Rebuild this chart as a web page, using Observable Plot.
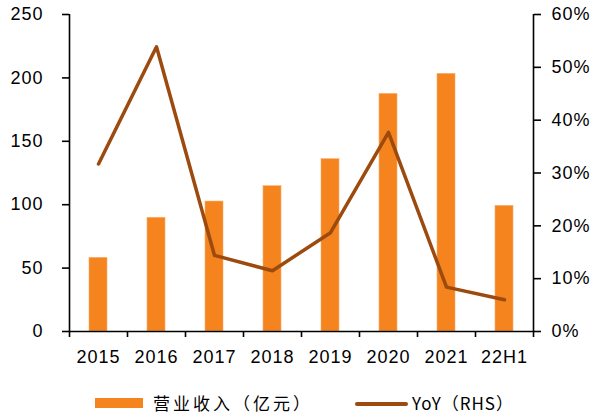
<!DOCTYPE html>
<html>
<head>
<meta charset="utf-8">
<script src="https://cdn.jsdelivr.net/npm/d3@7"></script>
<script src="https://cdn.jsdelivr.net/npm/@observablehq/plot@0.6"></script>
<style>
  html, body { margin: 0; padding: 0; background: #fff; }
  #wrap { position: relative; width: 598px; height: 418px; overflow: hidden; }
  .lg { position: absolute; font-family: "Noto Sans CJK SC", sans-serif; font-size: 17px; color: #000; line-height: 20px; white-space: nowrap; }
  .sw { position: absolute; }
</style>
</head>
<body>
<div id="wrap">
  <div id="chart"></div>
  <div class="sw" style="left:95px;top:398px;width:48px;height:10px;background:#F5841F;"></div>
  <div class="lg" style="left:153px;top:393px;letter-spacing:3px;">营业收入（亿元）</div>
  <div class="sw" style="left:355px;top:402px;width:53px;height:4px;background:#9C4A0E;border-radius:2px;"></div>
  <div class="lg" style="left:412px;top:393px;letter-spacing:1px;">YoY（RHS）</div>
</div>
<script>
const categories = ["2015", "2016", "2017", "2018", "2019", "2020", "2021", "22H1"];
const revenue = [58.1, 89.7, 102.5, 114.6, 135.9, 187.4, 203.2, 99.1];
const yoy = [31.7, 53.9, 14.4, 11.5, 18.7, 37.7, 8.4, 6.0];
const leftTicks = [0, 50, 100, 150, 200, 250];
const rightTicks = [0, 10, 20, 30, 40, 50, 60];

const yMax = 250, rMax = 60;
const toLeft = p => p * yMax / rMax;

const rows = categories.map((c, i) => ({cat: c, rev: revenue[i], yoy: yoy[i]}));

const W = 598, H = 375, mL = 69, mR = 65, mT = 14, mB = 44;
const step = (W - mL - mR) / categories.length;

const chart = Plot.plot({
  width: W,
  height: H,
  marginLeft: mL,
  marginRight: mR,
  marginTop: mT,
  marginBottom: mB,
  style: {fontFamily: "Liberation Sans, Arial, sans-serif", fontSize: "18px", color: "#000", letterSpacing: "1px", background: "#fff"},
  x: {type: "band", domain: categories, padding: 0, label: null},
  y: {domain: [0, yMax], label: null},
  marks: [
    Plot.barY(rows, {x: "cat", y: "rev", fill: "#F5841F", stroke: "#F9B070", strokeWidth: 0.6, insetLeft: 20, insetRight: 20}),
    Plot.line(rows, {x: "cat", y: d => toLeft(d.yoy), stroke: "#9C4A0E", strokeWidth: 3.5, strokeLinecap: "round", strokeLinejoin: "round"}),
    Plot.ruleX([categories[0]], {dx: -step / 2, y1: 0, y2: yMax, stroke: "#000", strokeWidth: 1.6}),
    Plot.ruleX([categories[categories.length - 1]], {dx: step / 2, y1: 0, y2: yMax, stroke: "#000", strokeWidth: 1.6}),
    Plot.ruleY([0], {stroke: "#000", strokeWidth: 1.6}),
    Plot.axisY(leftTicks, {anchor: "left", label: null, tickSize: 7, tickPadding: 19, strokeWidth: 1.6, fontSize: 18}),
    Plot.axisY(rightTicks.map(toLeft), {anchor: "right", label: null, tickSize: 7, tickPadding: 11, strokeWidth: 1.6, fontSize: 18, tickFormat: d => Math.round(d * rMax / yMax) + "%"}),
    Plot.axisX(categories, {anchor: "bottom", label: null, tickSize: 0, tickPadding: 19, fontSize: 18}),
    Plot.axisX(categories, {anchor: "bottom", label: null, tickSize: 6, tickFormat: () => "", dx: -step / 2, strokeWidth: 1.6}),
    Plot.axisX([categories[categories.length - 1]], {anchor: "bottom", label: null, tickSize: 6, tickFormat: () => "", dx: step / 2, strokeWidth: 1.6})
  ]
});
document.getElementById("chart").appendChild(chart);
</script>
</body>
</html>
